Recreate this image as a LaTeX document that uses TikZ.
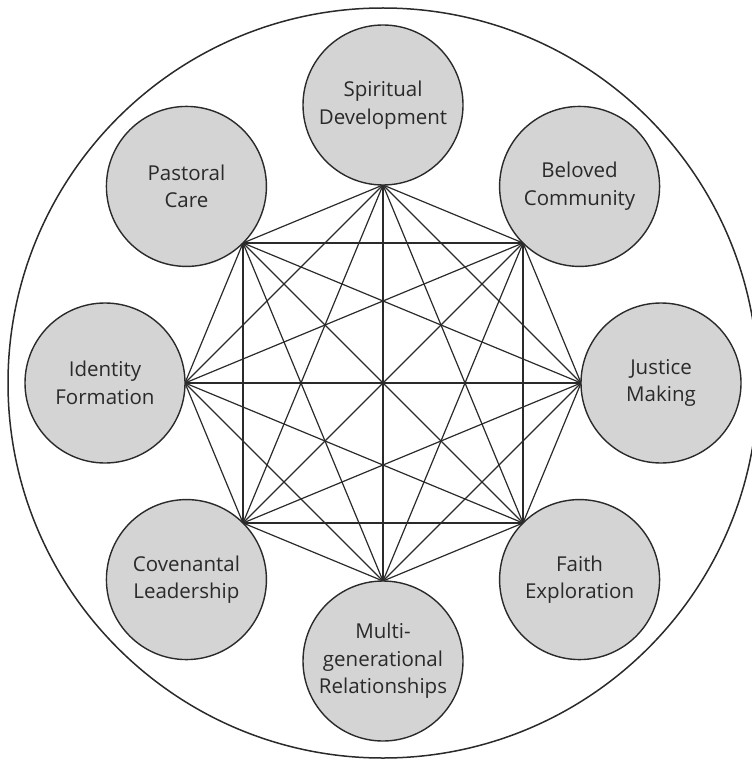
\documentclass[tikz,border=0pt]{standalone}
\usepackage{fontspec}
\setmainfont{Open Sans}
\definecolor{bubfill}{HTML}{D4D4D4}
\definecolor{inkc}{HTML}{2A2A2A}
\begin{document}
\begin{tikzpicture}[x=1pt,y=-1pt,
  bub/.style={circle, draw=inkc, line width=1.4pt, fill=bubfill, minimum size=160pt,
    inner sep=0pt, align=center, text=inkc, font=\fontsize{20.5}{27.5}\selectfont},
  link/.style={line width=1.2pt, draw=inkc},
  rim/.style={circle, draw=inkc, line width=1.5pt, minimum size=750pt, inner sep=0pt}]
\useasboundingbox (0,0) rectangle (751,759);
\node[rim] (outer) at (383,383) {};
\foreach \i in {0,...,7}{
  \pgfmathsetmacro{\ang}{90-45*\i}
  \coordinate (v\i) at ({383+198*cos(\ang)},{383-198*sin(\ang)});
  \coordinate (p\i) at ({383+278*cos(\ang)},{383-278*sin(\ang)});
}
\foreach \i in {0,...,7}{
  \foreach \j in {0,...,7}{
    \ifnum\i<\j \draw[link] (v\i) -- (v\j);\fi
  }
}
\node[bub] (c0) at (p0) {Spiritual\\Development};
\node[bub] (c1) at (p1) {Beloved\\Community};
\node[bub] (c2) at (p2) {Justice\\Making};
\node[bub] (c3) at (p3) {Faith\\Exploration};
\node[bub] (c4) at (p4) {Multi-\\generational\\Relationships};
\node[bub] (c5) at (p5) {Covenantal\\Leadership};
\node[bub] (c6) at (p6) {Identity\\Formation};
\node[bub] (c7) at (p7) {Pastoral\\Care};
\end{tikzpicture}
\end{document}
